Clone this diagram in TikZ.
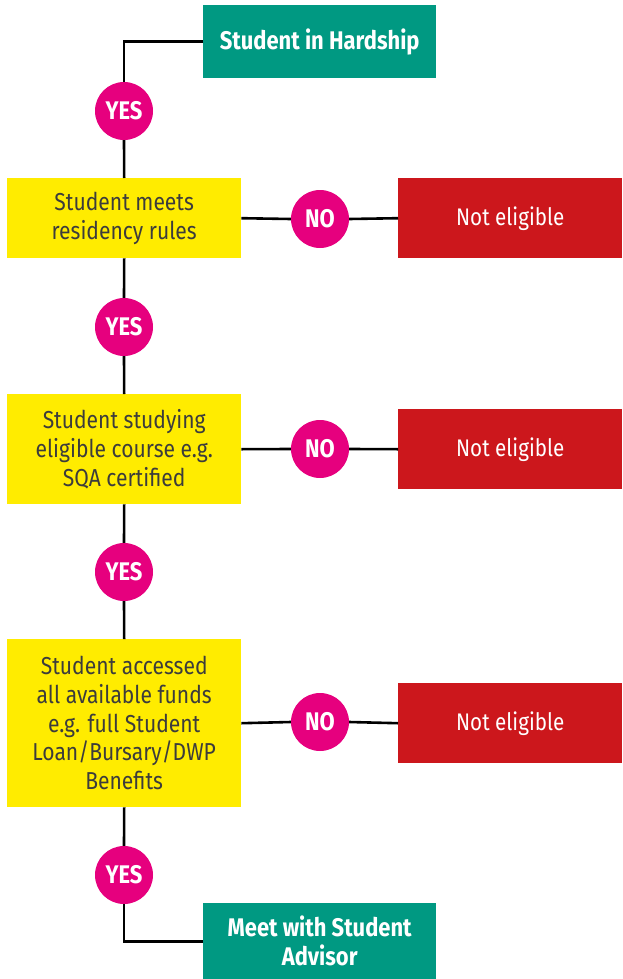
\documentclass[tikz,border=0pt]{standalone}
\usepackage{fontspec}
\setmainfont{Fira Sans}[FakeStretch=0.86]
\definecolor{hgreen}{HTML}{009982}
\definecolor{hyellow}{HTML}{FFEC00}
\definecolor{hred}{HTML}{CC171C}
\definecolor{hpink}{HTML}{E6007E}
\definecolor{htext}{HTML}{3C3C3C}
\begin{document}
\begin{tikzpicture}[x=1pt,y=-1pt,
  gbox/.style={fill=hgreen, text=white, font=\fontsize{25.5}{29}\selectfont\bfseries, align=center, minimum width=233pt, inner sep=0pt, anchor=north west},
  ybox/.style={fill=hyellow, text=htext, font=\fontsize{24.5}{28.7}\selectfont, align=center, minimum width=234pt, inner sep=0pt, anchor=north west},
  rbox/.style={fill=hred, text=white, font=\fontsize{24}{28}\selectfont, align=center, minimum width=224pt, minimum height=80pt, inner sep=0pt, anchor=north west},
  yn/.style={circle, fill=hpink, text=white, font=\fontsize{25.5}{29}\selectfont\bfseries, minimum size=58pt, inner sep=0pt},
  conn/.style={draw=black, line width=2.6pt}]
\useasboundingbox (0,0) rectangle (622,979);
% boxes
\node[gbox, minimum height=73pt] (hard) at (203,5) {Student in Hardship};
\node[ybox, minimum height=80pt] (c1) at (7,178) {Student meets\\residency rules};
\node[ybox, minimum height=110pt] (c2) at (7,394) {Student studying\\eligible course e.g.\\SQA certified};
\node[ybox, minimum height=168pt] (c3) at (7,639) {Student accessed\\all available funds\\e.g. full Student\\Loan/Bursary/DWP\\Benefits};
\node[gbox, minimum height=76pt] (meet) at (203,903) {Meet with Student\\Advisor};
\node[rbox] (r1) at (398,178) {Not eligible};
\node[rbox] (r2) at (398,409) {Not eligible};
\node[rbox] (r3) at (398,683) {Not eligible};
% decisions
\node[yn] (y1) at (124,111) {YES};
\node[yn] (y2) at (124,327) {YES};
\node[yn] (y3) at (124,572) {YES};
\node[yn] (y4) at (124,875) {YES};
\node[yn] (n1) at (320,219) {NO};
\node[yn] (n2) at (320,449) {NO};
\node[yn] (n3) at (320,722) {NO};
% connectors
\draw[conn] (hard.west) -| (y1.north);
\draw[conn] (y1.south) -- (c1.north);
\draw[conn] (c1.south) -- (y2.north);
\draw[conn] (y2.south) -- (c2.north);
\draw[conn] (c2.south) -- (y3.north);
\draw[conn] (y3.south) -- (c3.north);
\draw[conn] (c3.south) -- (y4.north);
\draw[conn] (y4.south) |- (meet.west);
\draw[conn] (c1.east) -- (n1.west);
\draw[conn] (n1.east) -- (r1.west);
\draw[conn] (c2.east) -- (n2.west);
\draw[conn] (n2.east) -- (r2.west);
\draw[conn] (c3.east) -- (n3.west);
\draw[conn] (n3.east) -- (r3.west);
\end{tikzpicture}
\end{document}
